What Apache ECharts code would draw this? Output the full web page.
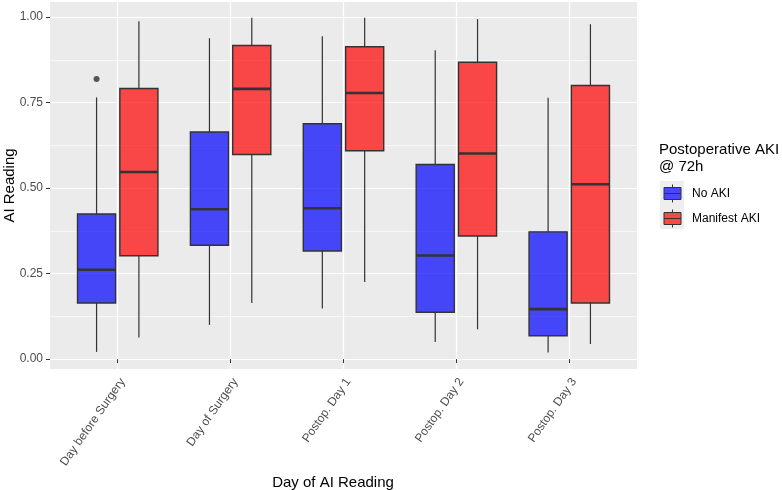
<!DOCTYPE html>
<html>
<head>
<meta charset="utf-8">
<script src="https://cdn.jsdelivr.net/npm/echarts@6/dist/echarts.min.js"></script>
<style>
  html, body { margin: 0; padding: 0; background: #fff; }
  #chart { width: 782px; height: 490px; }
</style>
</head>
<body>
<div id="chart"></div>
<script>
// day of reading (x categories)
const days = ['Day before Surgery', 'Day of Surgery', 'Postop. Day 1', 'Postop. Day 2', 'Postop. Day 3']

// [lower whisker, q1, median, q3, upper whisker] per day
const noAki = [
  [0.021, 0.164, 0.261, 0.424, 0.765],
  [0.100, 0.333, 0.438, 0.664, 0.938],
  [0.148, 0.316, 0.441, 0.688, 0.944],
  [0.050, 0.137, 0.303, 0.569, 0.903],
  [0.019, 0.068, 0.146, 0.372, 0.764]
]
const manifestAki = [
  [0.063, 0.302, 0.547, 0.791, 0.988],
  [0.164, 0.598, 0.790, 0.917, 0.998],
  [0.225, 0.609, 0.778, 0.913, 0.998],
  [0.087, 0.360, 0.601, 0.868, 0.994],
  [0.044, 0.164, 0.511, 0.800, 0.979]
]
// outliers: [day index, value]
const noAkiOutliers = [[0, 0.819]]

const yTicks = [0, 0.25, 0.5, 0.75, 1]
const yMinor = [0.125, 0.375, 0.625, 0.875]
const xTicks = [1, 2, 3, 4, 5]

const FONT = 'Liberation Sans, Arial, sans-serif'
const dodge = 0.1875
const boxWidth = 0.3375

const toData = (rows) => rows.map((r, i) => [i + 1, ...r])

const renderBox = (offset) => (params, api) => {
  const x = api.value(0) + offset
  const lo = api.coord([x, api.value(1)])
  const q1 = api.coord([x, api.value(2)])
  const md = api.coord([x, api.value(3)])
  const q3 = api.coord([x, api.value(4)])
  const hi = api.coord([x, api.value(5)])
  const half = api.size([boxWidth, 0])[0] / 2
  const color = api.visual('color')
  const edge = { stroke: '#333333', lineWidth: 1.2 }
  return {
    type: 'group',
    children: [
      { type: 'line', shape: { x1: hi[0], y1: hi[1], x2: q3[0], y2: q3[1] }, style: edge },
      { type: 'line', shape: { x1: q1[0], y1: q1[1], x2: lo[0], y2: lo[1] }, style: edge },
      {
        type: 'rect',
        shape: { x: q3[0] - half, y: q3[1], width: half * 2, height: q1[1] - q3[1] },
        style: { fill: color, stroke: '#333333', lineWidth: 1.4 }
      },
      {
        type: 'line',
        shape: { x1: md[0] - half, y1: md[1], x2: md[0] + half, y2: md[1] },
        style: { stroke: '#333333', lineWidth: 2.6 }
      }
    ]
  }
}

const boxIcon = 'path://M8.5,0V3M8.5,15V18M0,3H17V15H0ZM0,9H17'

const chart = echarts.init(document.getElementById('chart'))

const option = {
  animation: false,
  backgroundColor: '#ffffff',
  textStyle: { fontFamily: FONT },
  title: [
    {
      text: 'Day of AI Reading',
      left: 328,
      top: 470,
      textAlign: 'center',
      textStyle: { fontSize: 15, fontWeight: 'normal', color: '#000', fontFamily: FONT }
    },
    {
      text: 'Postoperative AKI\n@ 72h',
      left: 659,
      top: 141,
      padding: 0,
      textStyle: { fontSize: 15, lineHeight: 17, fontWeight: 'normal', color: '#000', fontFamily: FONT }
    }
  ],
  legend: [
    {
      // key backgrounds
      data: ['No AKI', 'Manifest AKI'],
      orient: 'vertical',
      left: 660,
      top: 181,
      padding: 0,
      itemGap: 0,
      itemWidth: 24,
      itemHeight: 24,
      icon: 'rect',
      selectedMode: false,
      formatter: () => '',
      itemStyle: { color: '#eeeeee', borderWidth: 0 }
    },
    {
      data: ['No AKI', 'Manifest AKI'],
      orient: 'vertical',
      left: 663.5,
      top: 184,
      padding: 0,
      itemGap: 6,
      itemWidth: 17,
      itemHeight: 18,
      icon: boxIcon,
      selectedMode: false,
      itemStyle: { borderColor: '#333333', borderWidth: 1 },
      formatter: (name) => `{t|${name}}`,
      textStyle: {
        fontSize: 12,
        color: '#000',
        fontFamily: FONT,
        rich: { t: { fontSize: 12, color: '#000', fontFamily: FONT, padding: [0, 0, 0, 6] } }
      }
    }
  ],
  grid: {
    left: 50,
    right: 145,
    top: 2,
    bottom: 121,
    outerBoundsMode: 'none',
    containLabel: false,
    show: true,
    backgroundColor: '#ebebeb',
    borderWidth: 0
  },
  xAxis: {
    type: 'value',
    min: 0.4,
    max: 5.6,
    axisLine: { show: false },
    axisTick: {
      show: true,
      length: 4,
      customValues: xTicks,
      lineStyle: { color: '#333333', width: 1 }
    },
    axisLabel: {
      customValues: xTicks,
      formatter: (v) => days[Math.round(v) - 1] || '',
      rotate: 55,
      align: 'right',
      verticalAlign: 'top',
      margin: 7,
      fontSize: 12,
      color: '#4d4d4d',
      fontFamily: FONT
    },
    splitLine: { show: true, lineStyle: { color: '#ffffff', width: 1.2 } }
  },
  yAxis: [
    {
      type: 'value',
      min: -0.029,
      max: 1.044,
      name: 'AI Reading',
      nameLocation: 'middle',
      nameGap: 33,
      nameMoveOverlap: false,
      nameTextStyle: { fontSize: 15, color: '#000', fontFamily: FONT },
      axisLine: { show: false },
      axisTick: {
        show: true,
        length: 4,
        customValues: yTicks,
        lineStyle: { color: '#333333', width: 1 }
      },
      axisLabel: {
        customValues: yTicks,
        formatter: (v) => v.toFixed(2),
        margin: 7,
        fontSize: 12,
        color: '#4d4d4d',
        fontFamily: FONT
      },
      splitLine: { show: true, lineStyle: { color: '#ffffff', width: 1.2 } }
    },
    {
      // minor grid lines
      type: 'value',
      min: -0.029,
      max: 1.044,
      axisLine: { show: false },
      axisTick: { show: false, customValues: yMinor },
      axisLabel: { show: false },
      splitLine: { show: true, lineStyle: { color: '#ffffff', width: 0.6 } }
    }
  ],
  series: [
    {
      name: 'No AKI',
      type: 'custom',
      renderItem: renderBox(-dodge),
      itemStyle: { color: 'rgba(0,0,255,0.7)' },
      encode: { x: 0, y: [1, 2, 3, 4, 5] },
      data: toData(noAki),
      z: 3
    },
    {
      name: 'Manifest AKI',
      type: 'custom',
      renderItem: renderBox(dodge),
      itemStyle: { color: 'rgba(255,0,0,0.7)' },
      encode: { x: 0, y: [1, 2, 3, 4, 5] },
      data: toData(manifestAki),
      z: 3
    },
    {
      name: 'outliers',
      type: 'scatter',
      symbolSize: 6,
      itemStyle: { color: '#555555', opacity: 1 },
      data: noAkiOutliers.map(([d, v]) => [d + 1 - dodge, v]),
      z: 4
    }
  ]
}

chart.setOption(option)
</script>
</body>
</html>
